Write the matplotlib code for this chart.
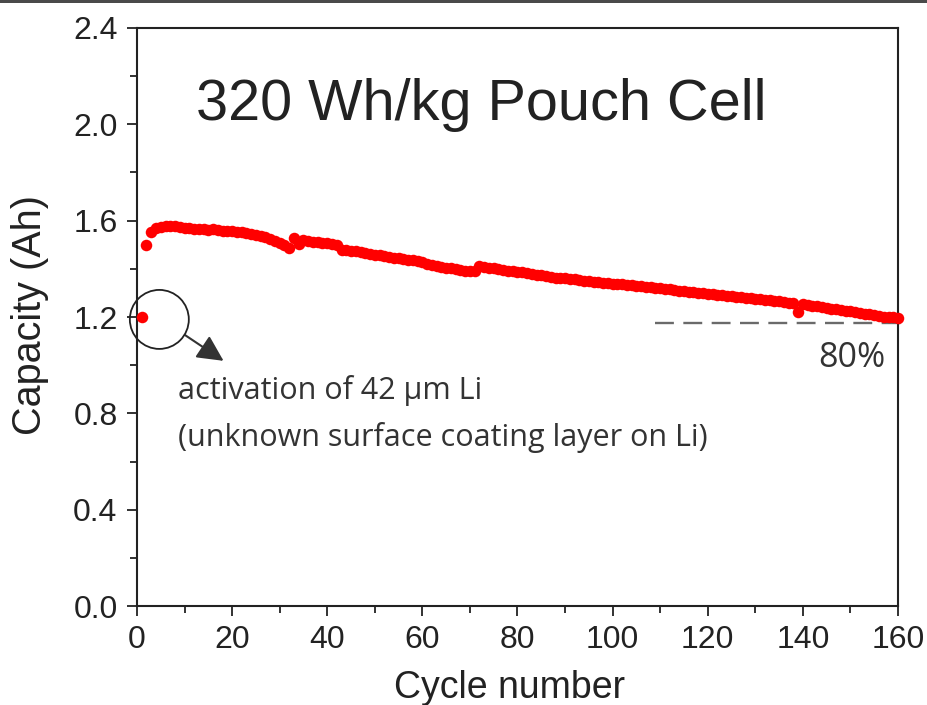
import matplotlib
matplotlib.use("Agg")
import matplotlib.pyplot as plt
from matplotlib.patches import Ellipse, Rectangle
from matplotlib.ticker import MultipleLocator

cycles = list(range(1, 161))
capacity = [
    1.200, 1.500, 1.553, 1.568, 1.575, 1.578, 1.579, 1.577, 1.575, 1.571,
    1.569, 1.566, 1.567, 1.565, 1.563, 1.564, 1.561, 1.559, 1.557, 1.556,
    1.554, 1.551, 1.549, 1.545, 1.540, 1.536, 1.531, 1.524, 1.516, 1.508,
    1.497, 1.486, 1.527, 1.505, 1.518, 1.514, 1.512, 1.510, 1.508, 1.506,
    1.503, 1.498, 1.480, 1.478, 1.475, 1.472, 1.468, 1.465, 1.462, 1.459,
    1.456, 1.453, 1.450, 1.447, 1.444, 1.441, 1.438, 1.436, 1.433, 1.428,
    1.418, 1.414, 1.411, 1.408, 1.405, 1.402, 1.399, 1.396, 1.393, 1.389,
    1.392, 1.410, 1.408, 1.405, 1.402, 1.399, 1.396, 1.393, 1.390, 1.388,
    1.385, 1.382, 1.379, 1.376, 1.373, 1.370, 1.367, 1.364, 1.362, 1.360,
    1.358, 1.356, 1.354, 1.351, 1.349, 1.347, 1.345, 1.343, 1.341, 1.339,
    1.337, 1.335, 1.333, 1.331, 1.329, 1.327, 1.325, 1.323, 1.321, 1.319,
    1.317, 1.315, 1.313, 1.310, 1.308, 1.305, 1.303, 1.301, 1.299, 1.297,
    1.295, 1.293, 1.291, 1.289, 1.287, 1.285, 1.282, 1.280, 1.278, 1.276,
    1.274, 1.272, 1.270, 1.268, 1.266, 1.263, 1.260, 1.258, 1.222, 1.252,
    1.250, 1.247, 1.244, 1.241, 1.238, 1.235, 1.232, 1.229, 1.226, 1.223,
    1.220, 1.217, 1.214, 1.211, 1.208, 1.205, 1.202, 1.200, 1.198, 1.196,
]
x_ticks = [0, 20, 40, 60, 80, 100, 120, 140, 160]
y_ticks = [0.0, 0.4, 0.8, 1.2, 1.6, 2.0, 2.4]
y_tick_labels = ["0.0", "0.4", "0.8", "1.2", "1.6", "2.0", "2.4"]
retention_level = 1.175
title_text = "320 Wh/kg Pouch Cell"
note_line1 = "activation of 42 µm Li"
note_line2 = "(unknown surface coating layer on Li)"
retention_label = "80%"

plt.rcParams['font.family'] = ['Liberation Sans', 'DejaVu Sans']
fig = plt.figure(figsize=(9.28, 7.05), dpi=100)
ax = fig.add_axes([0.1476, 0.1404, 0.8201, 0.8199])

ax.plot(cycles, capacity, linestyle='none', marker='o', markersize=8.3,
        color='#ff0000', markeredgewidth=0, clip_on=False, zorder=3)

ax.plot([109, 161.5], [retention_level, retention_level], linestyle=(0, (8, 4)),
        color='#6a6a6a', linewidth=1.7, clip_on=False, zorder=2)

ax.set_xlim(0, 160)
ax.set_ylim(0, 2.4)
ax.set_xticks(x_ticks)
ax.set_yticks(y_ticks)
ax.set_yticklabels(y_tick_labels)
ax.xaxis.set_minor_locator(MultipleLocator(10))
ax.yaxis.set_minor_locator(MultipleLocator(0.2))
ax.tick_params(which='major', direction='out', length=7, width=1.3,
               labelsize=23, pad=7, color='#222222', labelcolor='#222222')
ax.tick_params(which='minor', direction='out', length=5, width=1.3, color='#222222')
for s in ax.spines.values():
    s.set_linewidth(1.5)
    s.set_color('#222222')

ax.set_xlabel("Cycle number", fontsize=27, color='#222222')
ax.xaxis.set_label_coords(0.489, -0.142, transform=ax.transAxes)
ax.xaxis.label.set_va('center')
ax.set_ylabel("Capacity (Ah)", fontsize=28.5, color='#222222')
ax.yaxis.set_label_coords(-0.141, 0.504, transform=ax.transAxes)
ax.yaxis.label.set_va('center')

ax.text(12.4, 2.08, title_text, fontsize=41.5, color='#222222', va='center', ha='left')

ell = Ellipse((4.7, 1.19), width=12.4, height=0.245, fill=False,
              edgecolor='#222222', linewidth=1.3, clip_on=False, zorder=4)
ax.add_patch(ell)
ax.annotate("", xy=(18.2, 1.018), xytext=(10.1, 1.125),
            arrowprops=dict(arrowstyle='-|>,head_length=0.8,head_width=0.4',
                            color='#333333', linewidth=1.5, mutation_scale=20,
                            shrinkA=0, shrinkB=0))

ax.text(8.6, 0.893, note_line1, fontsize=22, family=['Open Sans', 'DejaVu Sans'],
        color='#333333', va='center', ha='left')
ax.text(8.6, 0.698, note_line2, fontsize=22, family=['Open Sans', 'DejaVu Sans'],
        color='#333333', va='center', ha='left')
ax.text(157.3, 1.03, retention_label, fontsize=24.5, family=['Open Sans', 'DejaVu Sans'],
        color='#333333', va='center', ha='right')

fig.patches.append(Rectangle((0, 1 - 3 / 705), 1, 3 / 705, transform=fig.transFigure,
                             facecolor='#4a4a4a', edgecolor='none', zorder=10))

fig.savefig("out.png", dpi=100)
